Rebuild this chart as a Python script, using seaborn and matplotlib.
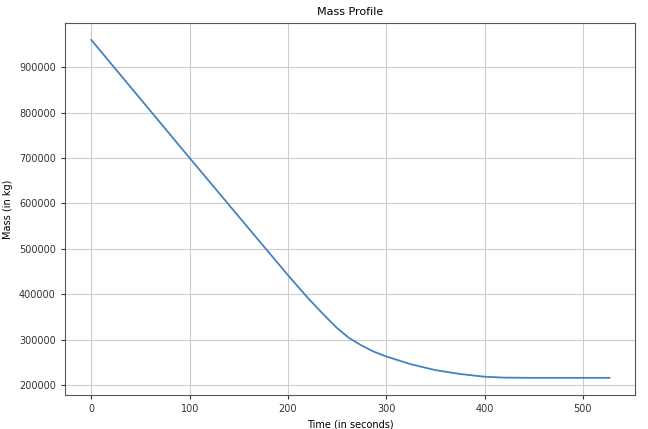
import numpy as np
import pandas as pd
import seaborn as sns
import matplotlib.pyplot as plt

# valori
time_s = [0, 100, 200, 220, 230, 240, 250, 262, 275, 287, 300, 325, 350, 375, 400, 420, 450, 500, 527]
mass_kg = [960000, 700000, 442000, 392500, 369500, 347000, 325500, 304000, 287000, 274000, 263000,
           246000, 233000, 224500, 218500, 216500, 216000, 216000, 216000]

df = pd.DataFrame({'Time': time_s, 'Mass': mass_kg})

plt.rcParams['font.family'] = ['DejaVu Sans']
fig = plt.figure(figsize=(6.48, 4.29), dpi=100)
ax = fig.add_axes([0.100, 0.079, 0.880, 0.867])

sns.lineplot(data=df, x='Time', y='Mass', ax=ax, color='#4682be', linewidth=1.3)

ax.set_xlim(-27, 553)
ax.set_ylim(178000, 997000)
ax.set_xticks([0, 100, 200, 300, 400, 500])
ax.set_yticks([200000, 300000, 400000, 500000, 600000, 700000, 800000, 900000])
ax.ticklabel_format(axis='y', style='plain')
ax.grid(True, color='#cccccc', linewidth=0.8)
ax.tick_params(labelsize=7, colors='#333333', length=3)
for s in ax.spines.values():
    s.set_color('#555555')

ax.set_title('Mass Profile', fontsize=8)
ax.set_xlabel('Time (in seconds)', fontsize=7)
ax.set_ylabel('Mass (in kg)', fontsize=7)

fig.savefig('out.png', dpi=100)
